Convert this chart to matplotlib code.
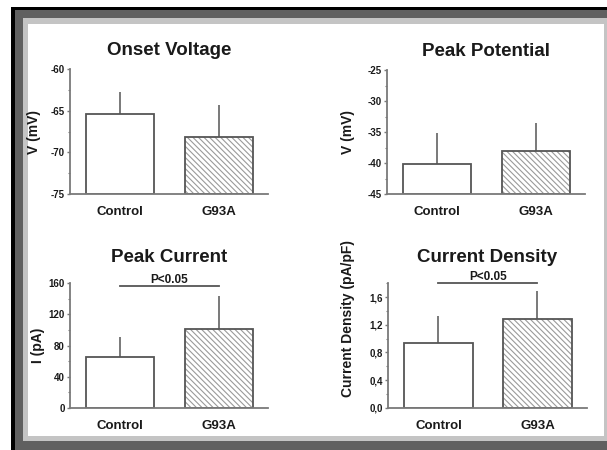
import numpy as np
import matplotlib
matplotlib.use("Agg")
import matplotlib.pyplot as plt
from matplotlib.patches import Rectangle
from matplotlib.ticker import MultipleLocator, FuncFormatter

plt.rcParams['font.family'] = ['Liberation Sans', 'DejaVu Sans']
plt.rcParams['font.weight'] = 'bold'
plt.rcParams['hatch.linewidth'] = 0.8

# ---- data ----
groups = ["Control", "G93A"]

titles = ["Onset Voltage", "Peak Potential", "Peak Current", "Current Density"]
ylabels = ["V (mV)", "V (mV)", "I (pA)", "Current Density (pA/pF)"]

onset_mean = [-65.4, -68.2]
onset_sem = [2.6, 3.9]
peakpot_mean = [-40.2, -38.1]
peakpot_sem = [5.1, 4.6]
peakcur_mean = [65.0, 101.0]
peakcur_sem = [25.5, 43.0]
density_mean = [0.93, 1.29]
density_sem = [0.39, 0.40]

ylims = [(-75, -60), (-45, -25), (0, 160), (0, 1.8)]
major_steps = [5, 5, 40, 0.4]
minor_steps = [2.5, 2.5, 20, 0.2]
sig_text = [None, None, "P<0.05", "P<0.05"]
sig_level = [None, None, 157, 1.81]

means = [onset_mean, peakpot_mean, peakcur_mean, density_mean]
sems = [onset_sem, peakpot_sem, peakcur_sem, density_sem]

W, H = 607, 450
fig = plt.figure(figsize=(W / 100, H / 100), dpi=100, facecolor='#c4c4c4')

# ---- frame decoration (pixel coords from top-left) ----
def frame_rect(x0, y0, x1, y1, color):
    fig.patches.append(Rectangle((x0 / W, 1 - y1 / H), (x1 - x0) / W, (y1 - y0) / H,
                                 transform=fig.transFigure, facecolor=color,
                                 edgecolor='none', zorder=-10))

frame_rect(0, 0, 607, 7, '#ffffff')
frame_rect(0, 0, 11, 450, '#ffffff')
frame_rect(11, 7, 607, 10, '#000000')
frame_rect(11, 7, 15, 450, '#000000')
frame_rect(15, 10, 607, 18, '#606060')
frame_rect(15, 10, 23, 450, '#606060')
frame_rect(15, 441, 607, 450, '#606060')
frame_rect(28, 24, 604, 436, '#ffffff')

# axes boxes in pixels: (left, top, right, bottom)
boxes = [(70, 69, 268, 194), (387, 70, 585, 194),
         (70, 283.3, 268, 407.7), (388, 283.3, 587, 407.7)]
label_coords = [(-0.146, 0.5), (-0.16, 0.5), (-0.126, 0.5), (-0.166, 0.72)]
title_pads = [10, 10, 15, 15]
ylabel_sizes = [10, 10, 10, 10]

axis_col = '#7a7a7a'
edge_col = '#555555'
text_col = '#1a1a1a'

def fmt_factory(i):
    if i == 3:
        return FuncFormatter(lambda v, p: f"{v:.1f}".replace('.', ','))
    return FuncFormatter(lambda v, p: f"{v:.0f}")

x = np.arange(len(groups))
for i in range(4):
    l, t, r, b = boxes[i]
    ax = fig.add_axes([l / W, 1 - b / H, (r - l) / W, (b - t) / H])
    ax.patch.set_alpha(0)
    base = ylims[i][0]
    m = np.array(means[i])
    s = np.array(sems[i])
    # error bars (upward only)
    ax.errorbar(x, m, yerr=[np.zeros_like(s), s], fmt='none', ecolor=edge_col,
                elinewidth=1.1, capsize=0, zorder=1)
    # control bar (white)
    ax.bar(x[0], m[0] - base, bottom=base, width=0.69, color='white',
           edgecolor=edge_col, linewidth=1.3, zorder=2)
    # G93A hatched bar
    ax.bar(x[1], m[1] - base, bottom=base, width=0.69, color='white',
           edgecolor='#9a9a9a', linewidth=0, hatch='\\\\\\\\\\\\', zorder=2)
    ax.bar(x[1], m[1] - base, bottom=base, width=0.69, color='none',
           edgecolor=edge_col, linewidth=1.3, zorder=3)

    ax.set_xlim(-0.51, 1.5)
    ax.set_ylim(*ylims[i])
    ax.set_xticks(x)
    ax.set_xticklabels(groups, fontsize=9.5, fontweight='bold', color=text_col)
    ax.yaxis.set_major_locator(MultipleLocator(major_steps[i]))
    ax.yaxis.set_minor_locator(MultipleLocator(minor_steps[i]))
    ax.yaxis.set_major_formatter(fmt_factory(i))
    ax.tick_params(axis='x', length=0, pad=8.5)
    ax.tick_params(axis='y', which='major', length=2.5, width=1, color=axis_col,
                   labelsize=7, labelcolor=text_col, pad=1.2)
    ax.tick_params(axis='y', which='minor', length=1.5, width=0.8, color=axis_col)
    for sp in ['top', 'right']:
        ax.spines[sp].set_visible(False)
    for sp in ['left', 'bottom']:
        ax.spines[sp].set_color(axis_col)
        ax.spines[sp].set_linewidth(1.3)
        ax.spines[sp].set_zorder(4)
    ax.set_title(titles[i], fontsize=13.5, fontweight='bold', color=text_col,
                 pad=title_pads[i])
    ax.set_ylabel(ylabels[i], fontsize=ylabel_sizes[i], fontweight='bold', color=text_col)
    ax.yaxis.set_label_coords(*label_coords[i])
    if sig_text[i]:
        ax.plot([x[0], x[1]], [sig_level[i]] * 2, color=edge_col, lw=1.3,
                clip_on=False, zorder=5)
        ax.text((x[0] + x[1]) / 2, sig_level[i], sig_text[i], ha='center', va='bottom',
                fontsize=8.5, fontweight='bold', color=text_col, clip_on=False)
        ax.set_ylim(*ylims[i])

fig.savefig("out.png", dpi=100, facecolor=fig.get_facecolor())
